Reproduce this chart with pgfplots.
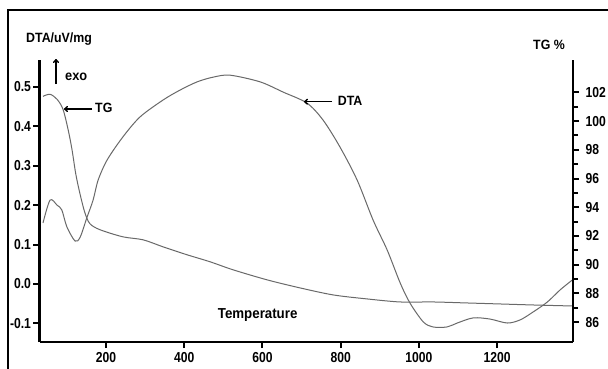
\documentclass[border=0pt]{standalone}
\usepackage{pgfplots}
\pgfplotsset{compat=1.18}
\usepackage{fontspec}
\setmainfont{Liberation Sans}
\newfontfamily\nf{Liberation Sans}[FakeStretch=0.84]
\newfontfamily\nt{Liberation Sans}[FakeStretch=0.92]
\usetikzlibrary{arrows.meta}
\definecolor{curve}{RGB}{105,105,105}
\begin{document}
\begin{tikzpicture}[x=1bp,y=1bp]
\useasboundingbox (0,0) rectangle (608,368);
\fill[white] (0,0) rectangle (608,368);
\draw[line width=1.5bp] (8,-10) -- (8,358) -- (620,358);
\pgfplotsset{
  common/.style={
    at={(39.5bp,26bp)}, anchor=south west,
    scale only axis, width=533.5bp, height=282bp,
    xmin=30, xmax=1394,
    axis line style={line width=2.2bp, -},
    tick style={line width=2bp, black},
    major tick length=6bp, minor tick length=5bp,
    tick align=outside,
    ticklabel style={font=\nf\bfseries\fontsize{14.5}{16}\selectfont},
    /pgf/number format/assume math mode=true,
    /pgf/number format/1000 sep={},
    scaled ticks=false,
    clip=false,
  }
}
\begin{axis}[common,
  ymin=-0.1472, ymax=0.5685,
  axis x line*=bottom, axis y line*=left,
  xtick={200,400,600,800,1000,1200},
  ytick={-0.1,0,0.1,0.2,0.3,0.4,0.5},
  xticklabel style={yshift=-1bp},
  yticklabel style={xshift=1bp, /pgf/number format/fixed, /pgf/number format/precision=1, /pgf/number format/fixed zerofill},
]
\addplot[curve, line width=1.0bp, smooth] coordinates {
(39,0.155) (57,0.213) (75,0.200) (87,0.188) (100,0.145) (121,0.109) (134,0.119)
(151,0.168) (167,0.213) (180,0.264) (203,0.315) (243,0.373) (287,0.424) (346,0.467)
(389,0.492) (433,0.513) (474,0.525) (517,0.530) (594,0.513) (653,0.487) (714,0.459)
(755,0.416) (798,0.348) (842,0.264) (883,0.162) (919,0.086) (952,0.003) (977,-0.048)
(1011,-0.096) (1036,-0.109) (1072,-0.109) (1098,-0.099) (1139,-0.086) (1182,-0.089)
(1226,-0.099) (1259,-0.091) (1292,-0.071) (1328,-0.046) (1361,-0.015) (1392,0.010)
};
\end{axis}
\begin{axis}[common,
  ymin=84.61, ymax=104.26,
  axis y line*=right, axis x line=none,
  ytick={86,88,90,92,94,96,98,100,102},
  minor ytick={87,89,91,93,95,97,99,101},
  yticklabel style={xshift=3bp},
]
\addplot[curve, line width=1.0bp, smooth] coordinates {
(39,101.73) (57,101.87) (75,101.52) (90,100.83) (103,99.43) (113,98.03) (123,96.28)
(134,94.88) (146,93.62) (159,92.85) (185,92.43) (243,91.94) (295,91.73) (346,91.24)
(407,90.69) (466,90.20) (525,89.64) (612,88.94) (696,88.38) (781,87.89) (868,87.61)
(952,87.40) (1036,87.40) (1123,87.33) (1208,87.26) (1292,87.19) (1392,87.12)
};
\end{axis}
\begin{scope}
\node[anchor=base west, inner sep=0, font=\nt\bfseries\fontsize{13.5}{15}\selectfont] at (26,326) {DTA/uV/mg};
\node[anchor=base west, inner sep=0, font=\nt\bfseries\fontsize{13.5}{15}\selectfont] at (533,319) {TG \%};
\draw[line width=1.4bp, -{To[length=4bp,width=6bp]}] (56,284) -- (56,309);
\node[anchor=base west, inner sep=0, font=\nt\bfseries\fontsize{14}{15}\selectfont] at (65,287.3) {exo};
\draw[line width=1.4bp, -{To[length=4bp,width=6bp]}] (92,259) -- (64,259);
\node[anchor=base west, inner sep=0, font=\nt\bfseries\fontsize{13.5}{15}\selectfont] at (95,255.7) {TG};
\draw[line width=1.4bp, -{To[length=4bp,width=6bp]}] (332,266.3) -- (304,266.3);
\node[anchor=base west, inner sep=0, font=\nt\bfseries\fontsize{13.5}{15}\selectfont] at (337.7,263) {DTA};
\node[anchor=base west, inner sep=0, font=\nt\bfseries\fontsize{14.5}{15}\selectfont] at (217.7,49.5) {Temperature};
\end{scope}
\end{tikzpicture}
\end{document}
